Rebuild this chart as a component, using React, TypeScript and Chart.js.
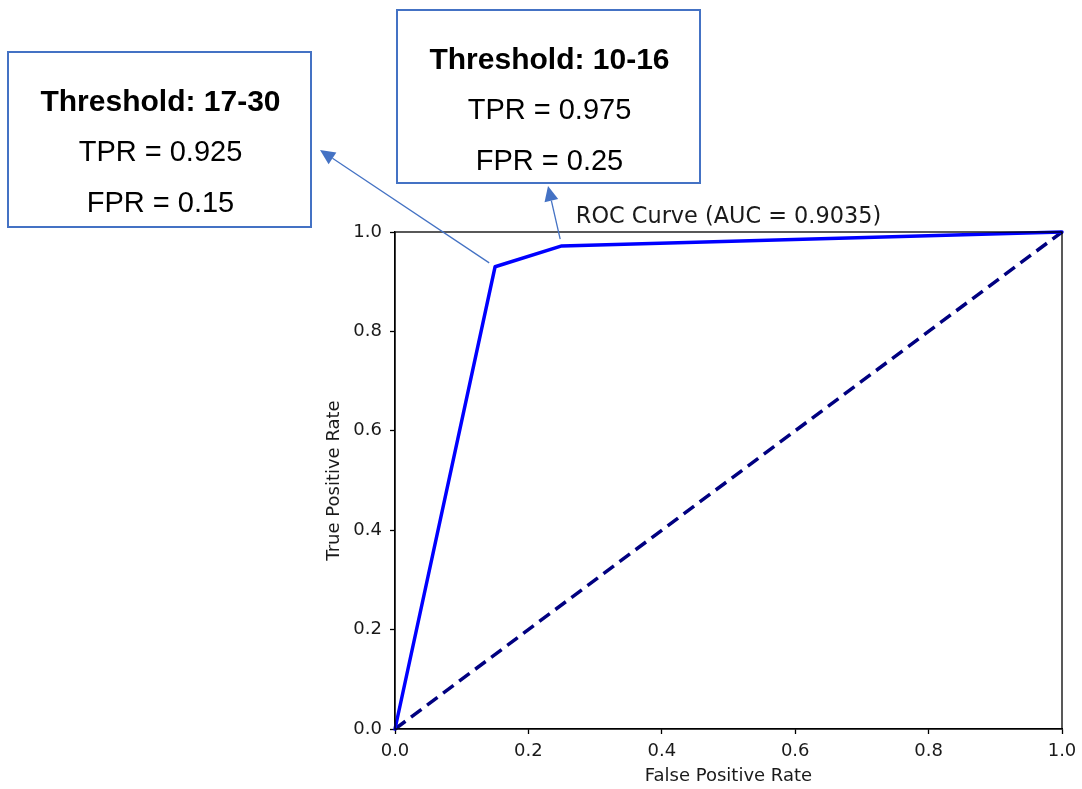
import React, { useEffect, useRef } from 'react';
import { Chart, registerables } from 'chart.js';

Chart.register(...registerables);

// ROC curve data
const fprValues = [0, 0.15, 0.25, 1];
const tprValues = [0, 0.93, 0.972, 1];
const diagX = [0, 1];
const diagY = [0, 1];
const xTicks = [0, 0.2, 0.4, 0.6, 0.8, 1.0];
const yTicks = [0, 0.2, 0.4, 0.6, 0.8, 1.0];
const chartTitle = 'ROC Curve (AUC = 0.9035)';
const xLabel = 'False Positive Rate';
const yLabel = 'True Positive Rate';

// annotation texts and the curve point each one refers to (index into fpr/tpr)
const annoTitles = ['Threshold: 17-30', 'Threshold: 10-16'];
const annoTpr = ['TPR = 0.925', 'TPR = 0.975'];
const annoFpr = ['FPR = 0.15', 'FPR = 0.25'];
const annoPointIndex = [1, 2];

// layout of annotation boxes (pixel positions, styling only)
const annoBoxes = [
  { x: 8, y: 52, w: 303, h: 175, tipX: 320, tipY: 150 },
  { x: 397, y: 10, w: 303, h: 173, tipX: 548, tipY: 186 },
];

const BOX_BLUE = '#4472C4';
const TEXT_COLOR = '#1a1a1a';
const TICK_FONT = { family: 'DejaVu Sans', size: 18 };

export default function App() {
  const canvasRef = useRef<HTMLCanvasElement | null>(null);

  useEffect(() => {
    const canvas = canvasRef.current;
    if (!canvas) return;

    const overlay = {
      id: 'overlay',
      afterDraw(chart: any) {
        const ctx = chart.ctx as CanvasRenderingContext2D;
        const area = chart.chartArea;
        const xs = chart.scales.x;
        const ys = chart.scales.y;
        ctx.save();

        // full frame (spines)
        ctx.strokeStyle = '#000';
        ctx.lineWidth = 1.3;
        ctx.strokeRect(area.left, area.top, area.right - area.left, area.bottom - area.top);

        // title
        ctx.fillStyle = TEXT_COLOR;
        ctx.font = '22.4px "DejaVu Sans"';
        ctx.textAlign = 'center';
        ctx.textBaseline = 'alphabetic';
        ctx.fillText(chartTitle, (area.left + area.right) / 2, area.top - 9);

        // annotation boxes
        annoBoxes.forEach((b, i) => {
          ctx.fillStyle = '#ffffff';
          ctx.fillRect(b.x, b.y, b.w, b.h);
          ctx.strokeStyle = BOX_BLUE;
          ctx.lineWidth = 2;
          ctx.strokeRect(b.x, b.y, b.w, b.h);

          const cx = b.x + b.w / 2 + 1;
          ctx.fillStyle = '#000';
          ctx.textAlign = 'center';
          ctx.textBaseline = 'alphabetic';
          ctx.font = 'bold 30px "Liberation Sans"';
          ctx.fillText(annoTitles[i], cx, b.y + 59);
          ctx.font = '29px "Liberation Sans"';
          ctx.fillText(annoTpr[i], cx, b.y + 109);
          ctx.fillText(annoFpr[i], cx, b.y + 160);

          // arrow from curve point to box
          const idx = annoPointIndex[i];
          const px = xs.getPixelForValue(fprValues[idx]);
          const py = ys.getPixelForValue(tprValues[idx]);
          const dx = px - b.tipX;
          const dy = py - b.tipY;
          const len = Math.hypot(dx, dy);
          const ux = dx / len;
          const uy = dy / len;
          const tailX = px - ux * 7;
          const tailY = py - uy * 7;
          const headLen = 15;
          const headHalf = 7;
          const baseX = b.tipX + ux * headLen;
          const baseY = b.tipY + uy * headLen;

          ctx.strokeStyle = BOX_BLUE;
          ctx.lineWidth = 1.3;
          ctx.beginPath();
          ctx.moveTo(tailX, tailY);
          ctx.lineTo(baseX, baseY);
          ctx.stroke();

          ctx.fillStyle = BOX_BLUE;
          ctx.beginPath();
          ctx.moveTo(b.tipX, b.tipY);
          ctx.lineTo(baseX - uy * headHalf, baseY + ux * headHalf);
          ctx.lineTo(baseX + uy * headHalf, baseY - ux * headHalf);
          ctx.closePath();
          ctx.fill();
        });

        ctx.restore();
      },
    };

    const rocData = fprValues.map((v, i) => ({ x: v, y: tprValues[i] }));
    const diagData = diagX.map((v, i) => ({ x: v, y: diagY[i] }));

    const axisCommon = (label: string, ticks: number[]) => ({
      type: 'linear' as const,
      min: 0,
      max: 1,
      afterBuildTicks: (s: any) => {
        s.ticks = ticks.map((v) => ({ value: v }));
      },
      ticks: {
        callback: (v: any) => Number(v).toFixed(1),
        font: TICK_FONT,
        color: TEXT_COLOR,
        autoSkip: false,
        maxRotation: 0,
      },
      grid: {
        display: true,
        drawOnChartArea: false,
        drawTicks: true,
        tickLength: 5,
        tickColor: '#000',
        tickWidth: 1.3,
      },
      border: { display: true, color: '#000', width: 1.3 },
      title: {
        display: true,
        text: label,
        font: TICK_FONT,
        color: TEXT_COLOR,
        padding: { top: 4, bottom: 2 },
      },
    });

    const xAxis: any = axisCommon(xLabel, xTicks);
    xAxis.ticks.padding = 7;
    xAxis.afterFit = (s: any) => {
      s.height = 60;
      s.paddingLeft = 0;
      s.paddingRight = 0;
    };
    const yAxis: any = axisCommon(yLabel, yTicks);
    yAxis.ticks.padding = 8;
    yAxis.afterFit = (s: any) => {
      s.width = 75;
      s.paddingTop = 0;
      s.paddingBottom = 0;
    };

    const chart = new Chart(canvas, {
      type: 'scatter',
      data: {
        datasets: [
          {
            label: 'ROC',
            data: rocData,
            showLine: true,
            borderColor: '#0000ff',
            backgroundColor: '#0000ff',
            borderWidth: 3.5,
            pointRadius: 0,
            borderJoinStyle: 'round',
            borderCapStyle: 'round',
            clip: 4,
          },
          {
            label: 'Random',
            data: diagData,
            showLine: true,
            borderColor: '#000080',
            backgroundColor: '#000080',
            borderWidth: 3.5,
            borderDash: [13, 7],
            pointRadius: 0,
            clip: 4,
          },
        ],
      },
      options: {
        animation: false,
        responsive: false,
        devicePixelRatio: 1,
        layout: { padding: { left: 320, right: 20, top: 232, bottom: 0 } },
        plugins: {
          legend: { display: false },
          tooltip: { enabled: false },
          title: { display: false },
        },
        scales: { x: xAxis, y: yAxis },
      },
      plugins: [overlay],
    });

    return () => chart.destroy();
  }, []);

  return (
    <div style={{ position: 'fixed', left: 0, top: 0, width: 1082, height: 789, background: '#fff' }}>
      <canvas ref={canvasRef} width={1082} height={789} />
    </div>
  );
}
